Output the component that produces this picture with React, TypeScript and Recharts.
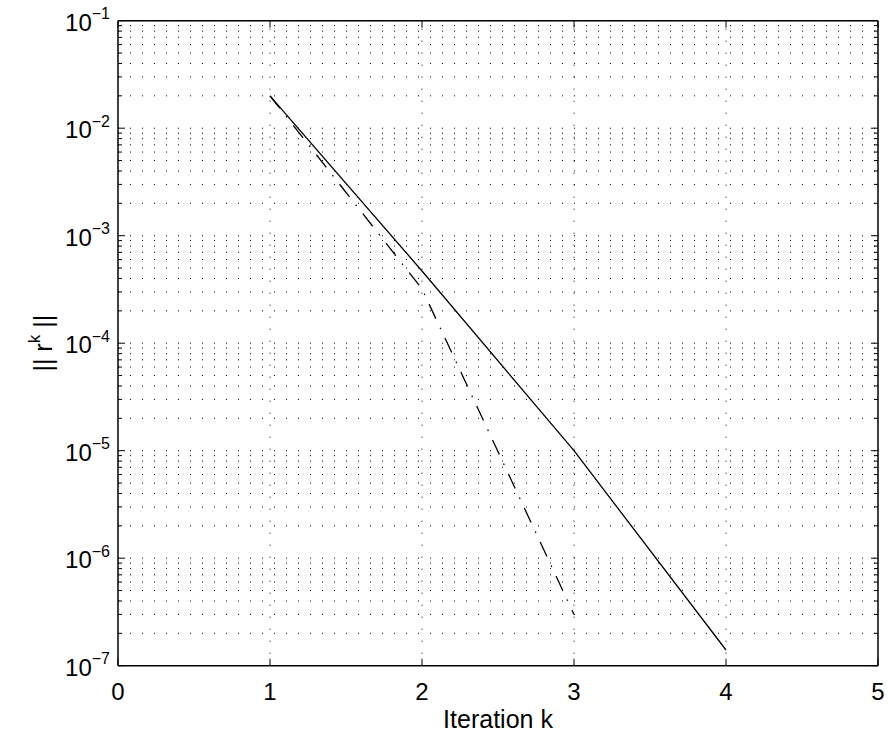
import * as React from "react";
import {LineChart, Line, XAxis, YAxis, ReferenceLine} from "recharts";

const iterations = [1, 2, 3, 4];
const residualSolid = [2e-2, 4.7e-4, 1e-5, 1.4e-7];
const residualDashDot = [2e-2, 3.2e-4, 3e-7, null];

const xTicks = [0, 1, 2, 3, 4, 5];
const xGrid = [1, 2, 3, 4];
const decades = [-7, -6, -5, -4, -3, -2, -1];

const yTicks: number[] = [];
decades.forEach((e) => {
    const top = e === -1 ? 1 : 9;
    for (let m = 1; m <= top; m++) yTicks.push(Number((m * Math.pow(10, e)).toPrecision(3)));
});

const data = iterations.map((k, i) => ({k, solid: residualSolid[i], dashdot: residualDashDot[i]}));

const FONT = "'Liberation Sans', Arial, Helvetica, sans-serif";

const isDecade = (v: number) => Math.abs(Math.log10(v) - Math.round(Math.log10(v))) < 1e-6;

const LeftTick = (props: any) => {
    const {x, y, payload} = props;
    const v = payload.value;
    const major = isDecade(v);
    return (
        <g>
            <line x1={x} y1={y} x2={x + (major ? 7 : 4)} y2={y} stroke="#000" strokeWidth={1}/>
            {major && (
                <text x={x - 8} y={y + 10} textAnchor="end" fontFamily={FONT} fontSize={24} fill="#000">
                    10<tspan fontSize={16} dy={-11.5}>{"\u2212" + Math.abs(Math.round(Math.log10(v)))}</tspan>
                </text>
            )}
        </g>
    );
};

const RightTick = (props: any) => {
    const {x, y, payload} = props;
    const major = isDecade(payload.value);
    return <line x1={x} y1={y} x2={x - (major ? 7 : 4)} y2={y} stroke="#000" strokeWidth={1}/>;
};

const BottomTick = (props: any) => {
    const {x, y, payload} = props;
    return (
        <g>
            <line x1={x} y1={y} x2={x} y2={y - 7} stroke="#000" strokeWidth={1}/>
            <text x={x} y={y + 34} textAnchor="middle" fontFamily={FONT} fontSize={24} fill="#000">{payload.value}</text>
        </g>
    );
};

const TopTick = (props: any) => {
    const {x, y} = props;
    return <line x1={x} y1={y} x2={x} y2={y + 7} stroke="#000" strokeWidth={1}/>;
};

const YLabel = (props: any) => {
    const vb = props.viewBox;
    const cx = vb.x + 34;
    const cy = vb.y + vb.height / 2;
    return (
        <text x={cx} y={cy} transform={`rotate(-90 ${cx} ${cy})`} textAnchor="middle" fontFamily={FONT}
              fontSize={25} fill="#000">
            {"|| r"}<tspan fontSize={17} dy={-12}>k</tspan><tspan dy={12}>{" ||"}</tspan>
        </text>
    );
};

const XLabel = (props: any) => {
    const vb = props.viewBox;
    return (
        <text x={vb.x + vb.width / 2} y={vb.y + 62} textAnchor="middle" fontFamily={FONT} fontSize={25} fill="#000">
            Iteration k
        </text>
    );
};

const axisLine = {stroke: "#000", strokeWidth: 1.5};

export default function App() {
    return (
        <div style={{position: "absolute", left: 0, top: 0, width: 890, height: 738, overflow: "hidden"}}>
            <LineChart width={890} height={738} data={data} margin={{top: 18.7, right: 10, bottom: 12.3, left: 18}}>
                <XAxis xAxisId="bottom" dataKey="k" type="number" domain={[0, 5]} ticks={xTicks} interval={0}
                       allowDataOverflow height={60} tickSize={0} tickMargin={0} tickLine={false} axisLine={axisLine}
                       tick={(p: any) => <BottomTick {...p}/>} label={{content: (p: any) => <XLabel {...p}/>}}/>
                <XAxis xAxisId="top" orientation="top" dataKey="k" type="number" domain={[0, 5]} ticks={xTicks}
                       interval={0} allowDataOverflow height={2} tickSize={0} tickMargin={0} tickLine={false}
                       axisLine={axisLine} tick={(p: any) => <TopTick {...p}/>}/>
                <YAxis yAxisId="left" type="number" scale="log" domain={[1e-7, 1e-1]} ticks={yTicks} interval={0}
                       allowDataOverflow width={100} tickSize={0} tickMargin={0} tickLine={false} axisLine={axisLine}
                       tick={(p: any) => <LeftTick {...p}/>} label={{content: (p: any) => <YLabel {...p}/>}}/>
                <YAxis yAxisId="right" orientation="right" type="number" scale="log" domain={[1e-7, 1e-1]}
                       ticks={yTicks} interval={0} allowDataOverflow width={2} tickSize={0} tickMargin={0}
                       tickLine={false} axisLine={axisLine} tick={(p: any) => <RightTick {...p}/>}/>
                {yTicks.map((v) => (
                    <ReferenceLine key={"h" + v} xAxisId="bottom" yAxisId="left" y={v} stroke="#000" strokeWidth={1}
                                   strokeDasharray="1 11" ifOverflow="hidden"/>
                ))}
                {xGrid.map((v) => (
                    <ReferenceLine key={"v" + v} xAxisId="bottom" yAxisId="left" x={v} stroke="#000" strokeWidth={1}
                                   strokeDasharray="1 11"/>
                ))}
                <Line xAxisId="bottom" yAxisId="left" dataKey="solid" stroke="#000" strokeWidth={1.3} dot={false}
                      isAnimationActive={false}/>
                <Line xAxisId="bottom" yAxisId="left" dataKey="dashdot" stroke="#000" strokeWidth={1.3} dot={false}
                      strokeDasharray="16 10 1.5 10" connectNulls={false} isAnimationActive={false}/>
            </LineChart>
        </div>
    );
}
